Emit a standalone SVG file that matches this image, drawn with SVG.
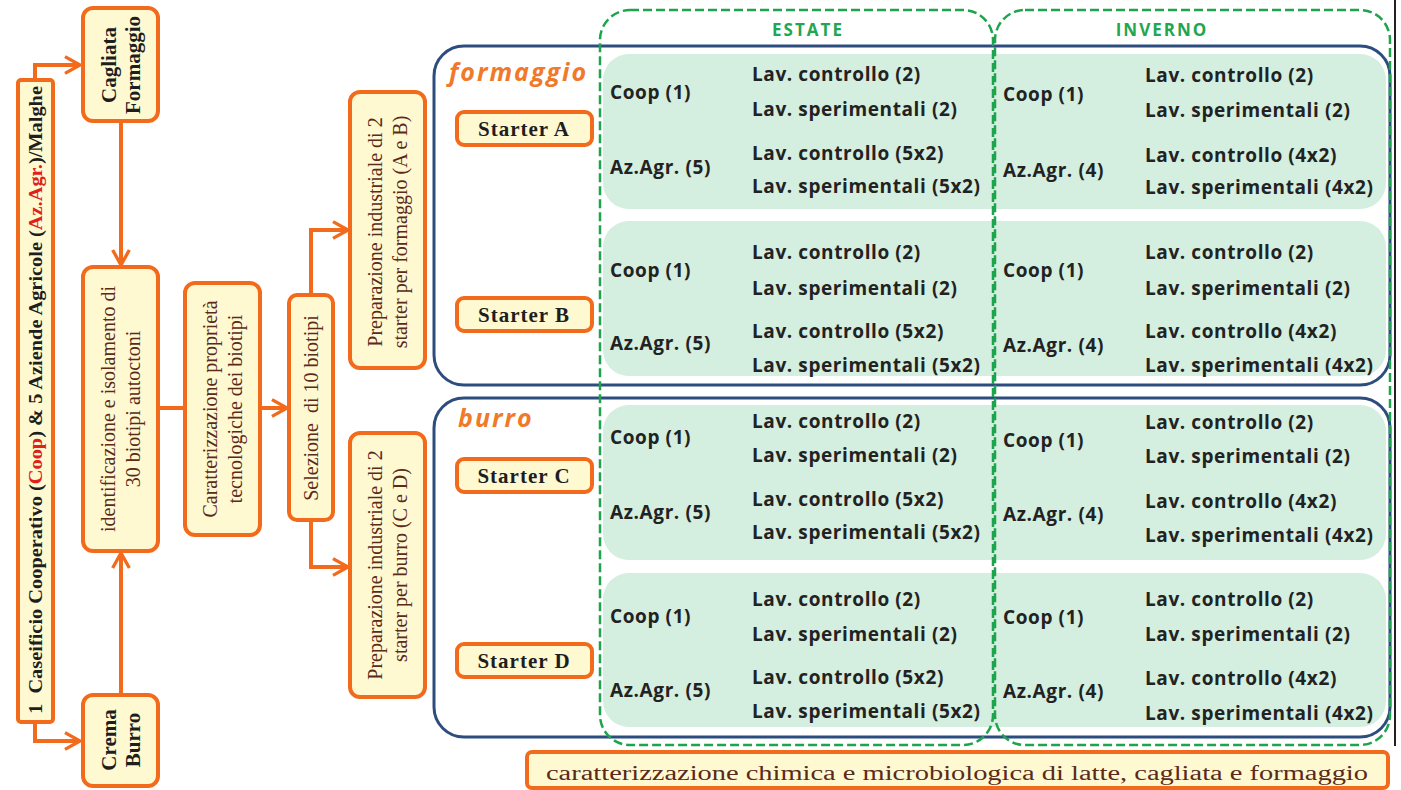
<svg xmlns="http://www.w3.org/2000/svg" width="1401" height="790" viewBox="0 0 1401 790">
<style>
.ob{fill:#FFF9D2;stroke:#F26A1B;stroke-width:4}
.ser{font-family:"Liberation Serif","Times New Roman",serif;fill:#5A2A1A;font-size:20px;text-anchor:middle;white-space:pre}
.serb{font-family:"Liberation Serif","Times New Roman",serif;fill:#1E1E1E;font-weight:bold;text-anchor:middle;white-space:pre}
.con{fill:none;stroke:#F26A1B;stroke-width:4}
.blue{fill:none;stroke:#2C4D7E;stroke-width:3}
.panel{fill:#D4EEDF}
.pt{font-family:"Open Sans","DejaVu Sans",sans-serif;font-weight:bold;font-size:19px;letter-spacing:0.6px;fill:#222}
.dash{fill:none;stroke:#1FA44E;stroke-width:2.5;stroke-dasharray:9 4}
.season{font-family:"Open Sans","DejaVu Sans",sans-serif;font-weight:bold;font-size:17px;letter-spacing:2px;fill:#22A650;text-anchor:middle}
.cat{font-family:"Open Sans","DejaVu Sans",sans-serif;font-weight:bold;font-style:italic;font-size:25px;letter-spacing:2px;fill:#F07A2A}
.st{font-family:"Liberation Serif","Times New Roman",serif;fill:#1E1E1E;font-weight:bold;font-size:21px;letter-spacing:1px;text-anchor:middle}
</style>
<defs>
<marker id="arr" viewBox="0 0 12 12" refX="10" refY="6" markerWidth="5" markerHeight="5" orient="auto" markerUnits="strokeWidth">
<path d="M1,1 L10,6 L1,11" fill="none" stroke="#F26A1B" stroke-width="2"/>
</marker>
</defs>
<rect width="1401" height="790" fill="#FFFFFF"/>
<line x1="1395" y1="0" x2="1395" y2="746" stroke="#222" stroke-width="2"/>

<g id="connectors">
<path class="con" d="M35,80 V65 H80" marker-end="url(#arr)"/>
<path class="con" d="M121,121 V265" marker-end="url(#arr)"/>
<path class="con" d="M35,722 V741 H80" marker-end="url(#arr)"/>
<path class="con" d="M121,695 V553" marker-end="url(#arr)"/>
<path class="con" d="M158,408 H185"/>
<path class="con" d="M260,408 H287" marker-end="url(#arr)"/>
<path class="con" d="M311,295 V230 H348" marker-end="url(#arr)"/>
<path class="con" d="M311,520 V567 H348" marker-end="url(#arr)"/>
</g>

<g id="source">
<rect class="ob" x="18" y="80" width="35" height="642" rx="3"/>
<text class="serb" font-size="18" textLength="628" lengthAdjust="spacingAndGlyphs" transform="translate(42,400) rotate(-90)">1  Caseificio Cooperativo (<tspan fill="#E0201A">Coop</tspan>) &amp; 5 Aziende Agricole (<tspan fill="#E0201A">Az.Agr.</tspan>)/Malghe</text>
</g>
<g id="cagliata">
<rect class="ob" x="83" y="8" width="75" height="113" rx="10"/>
<text class="serb" font-size="21" transform="translate(116,65) rotate(-90)">Cagliata</text>
<text class="serb" font-size="21" transform="translate(140,65) rotate(-90)">Formaggio</text>
</g>
<g id="crema">
<rect class="ob" x="83" y="695" width="75" height="91" rx="10"/>
<text class="serb" font-size="21" transform="translate(116,740) rotate(-90)">Crema</text>
<text class="serb" font-size="21" transform="translate(140,740) rotate(-90)">Burro</text>
</g>
<g id="identificazione">
<rect class="ob" x="83" y="267" width="75" height="284" rx="10"/>
<text class="ser" transform="translate(115,409) rotate(-90)">identificazione e isolamento di</text>
<text class="ser" transform="translate(140,409) rotate(-90)">30 biotipi autoctoni</text>
</g>
<g id="caratterizzazione">
<rect class="ob" x="185" y="283" width="75" height="252" rx="10"/>
<text class="ser" font-size="21" transform="translate(217,409) rotate(-90)">Caratterizzazione proprietà</text>
<text class="ser" font-size="21" transform="translate(242,409) rotate(-90)">tecnologiche dei biotipi</text>
</g>
<g id="selezione">
<rect class="ob" x="289" y="295" width="44" height="225" rx="8"/>
<text class="ser" font-size="21" transform="translate(318,408) rotate(-90)">Selezione  di 10 biotipi</text>
</g>
<g id="prep1">
<rect class="ob" x="350" y="92" width="75" height="276" rx="10"/>
<text class="ser" transform="translate(382,232) rotate(-90)">Preparazione industriale di 2</text>
<text class="ser" transform="translate(407,232) rotate(-90)">starter per formaggio (A e B)</text>
</g>
<g id="prep2">
<rect class="ob" x="350" y="433" width="75" height="264" rx="10"/>
<text class="ser" transform="translate(382,565) rotate(-90)">Preparazione industriale di 2</text>
<text class="ser" transform="translate(407,565) rotate(-90)">starter per burro (C e D)</text>
</g>

<g id="formaggio-group">
<rect class="blue" x="434" y="46" width="956" height="339" rx="30"/>
<text class="cat" x="449" y="81">formaggio</text>
</g>
<g id="burro-group">
<rect class="blue" x="434" y="398" width="956" height="339" rx="30"/>
<text class="cat" x="458" y="427">burro</text>
</g>

<g id="panels">
<rect class="panel" x="603" y="54" width="783" height="155" rx="26"/>
<rect class="panel" x="603" y="221" width="783" height="155" rx="26"/>
<rect class="panel" x="603" y="405" width="783" height="155" rx="26"/>
<rect class="panel" x="603" y="573" width="783" height="154" rx="26"/>
</g>

<g id="starterA"><rect class="ob" x="457" y="112" width="135" height="33" rx="7" stroke-width="3.5"/><text class="st" x="524" y="136">Starter A</text></g>
<g id="starterB"><rect class="ob" x="457" y="298" width="135" height="33" rx="7" stroke-width="3.5"/><text class="st" x="524" y="322">Starter B</text></g>
<g id="starterC"><rect class="ob" x="457" y="459" width="135" height="33" rx="7" stroke-width="3.5"/><text class="st" x="524" y="483">Starter C</text></g>
<g id="starterD"><rect class="ob" x="457" y="644" width="135" height="33" rx="7" stroke-width="3.5"/><text class="st" x="524" y="668">Starter D</text></g>

<g id="panel-text">
<text class="pt" x="610" y="99">Coop (1)</text>
<text class="pt" x="752" y="81">Lav. controllo (2)</text>
<text class="pt" x="752" y="116">Lav. sperimentali (2)</text>
<text class="pt" x="610" y="174">Az.Agr. (5)</text>
<text class="pt" x="752" y="160">Lav. controllo (5x2)</text>
<text class="pt" x="752" y="193">Lav. sperimentali (5x2)</text>
<text class="pt" x="1003" y="101">Coop (1)</text>
<text class="pt" x="1145" y="82">Lav. controllo (2)</text>
<text class="pt" x="1145" y="117">Lav. sperimentali (2)</text>
<text class="pt" x="1003" y="177">Az.Agr. (4)</text>
<text class="pt" x="1145" y="162">Lav. controllo (4x2)</text>
<text class="pt" x="1145" y="194">Lav. sperimentali (4x2)</text>

<text class="pt" x="610" y="277">Coop (1)</text>
<text class="pt" x="752" y="259">Lav. controllo (2)</text>
<text class="pt" x="752" y="295">Lav. sperimentali (2)</text>
<text class="pt" x="610" y="350">Az.Agr. (5)</text>
<text class="pt" x="752" y="338">Lav. controllo (5x2)</text>
<text class="pt" x="752" y="372">Lav. sperimentali (5x2)</text>
<text class="pt" x="1003" y="277">Coop (1)</text>
<text class="pt" x="1145" y="259">Lav. controllo (2)</text>
<text class="pt" x="1145" y="295">Lav. sperimentali (2)</text>
<text class="pt" x="1003" y="352">Az.Agr. (4)</text>
<text class="pt" x="1145" y="338">Lav. controllo (4x2)</text>
<text class="pt" x="1145" y="372">Lav. sperimentali (4x2)</text>

<text class="pt" x="610" y="444">Coop (1)</text>
<text class="pt" x="752" y="428">Lav. controllo (2)</text>
<text class="pt" x="752" y="462">Lav. sperimentali (2)</text>
<text class="pt" x="610" y="519">Az.Agr. (5)</text>
<text class="pt" x="752" y="506">Lav. controllo (5x2)</text>
<text class="pt" x="752" y="539">Lav. sperimentali (5x2)</text>
<text class="pt" x="1003" y="447">Coop (1)</text>
<text class="pt" x="1145" y="429">Lav. controllo (2)</text>
<text class="pt" x="1145" y="463">Lav. sperimentali (2)</text>
<text class="pt" x="1003" y="521">Az.Agr. (4)</text>
<text class="pt" x="1145" y="508">Lav. controllo (4x2)</text>
<text class="pt" x="1145" y="542">Lav. sperimentali (4x2)</text>

<text class="pt" x="610" y="623">Coop (1)</text>
<text class="pt" x="752" y="606">Lav. controllo (2)</text>
<text class="pt" x="752" y="641">Lav. sperimentali (2)</text>
<text class="pt" x="610" y="697">Az.Agr. (5)</text>
<text class="pt" x="752" y="684">Lav. controllo (5x2)</text>
<text class="pt" x="752" y="718">Lav. sperimentali (5x2)</text>
<text class="pt" x="1003" y="624">Coop (1)</text>
<text class="pt" x="1145" y="606">Lav. controllo (2)</text>
<text class="pt" x="1145" y="641">Lav. sperimentali (2)</text>
<text class="pt" x="1003" y="698">Az.Agr. (4)</text>
<text class="pt" x="1145" y="685">Lav. controllo (4x2)</text>
<text class="pt" x="1145" y="720">Lav. sperimentali (4x2)</text>
</g>

<g id="estate">
<rect class="dash" x="600" y="10" width="393" height="735" rx="30"/>
<text class="season" x="808" y="36">ESTATE</text>
</g>
<g id="inverno">
<rect class="dash" x="995" y="10" width="395" height="735" rx="30"/>
<text class="season" x="1162" y="36">INVERNO</text>
</g>

<g id="caratterizzazione-finale">
<rect class="ob" x="527" y="752" width="861" height="36" rx="5"/>
<text class="ser" font-size="25" x="957" y="780" textLength="822" lengthAdjust="spacingAndGlyphs">caratterizzazione chimica e microbiologica di latte, cagliata e formaggio</text>
</g>
</svg>
